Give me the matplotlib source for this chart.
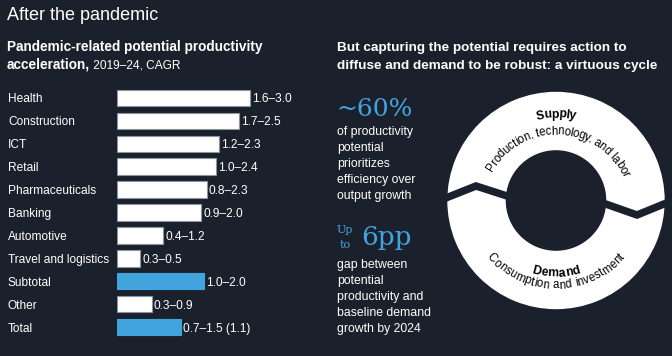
import matplotlib
matplotlib.use('Agg')
import matplotlib.pyplot as plt
import numpy as np
from matplotlib.patches import Wedge
from matplotlib.font_manager import FontProperties
from matplotlib.transforms import blended_transform_factory

plt.rcParams['font.family'] = ['Liberation Sans', 'DejaVu Sans']

BG = '#1b212c'
BLUE = '#41a4dd'

# data: bar length is the midpoint of each range
sectors = ['Health', 'Construction', 'ICT', 'Retail', 'Pharmaceuticals', 'Banking',
           'Automotive', 'Travel and logistics', 'Subtotal', 'Other', 'Total']
midpoints = [2.3, 2.1, 1.75, 1.7, 1.55, 1.45, 0.8, 0.4, 1.5, 0.6, 1.1]
ranges = ['1.6–3.0', '1.7–2.5', '1.2–2.3', '1.0–2.4', '0.8–2.3', '0.9–2.0',
          '0.4–1.2', '0.3–0.5', '1.0–2.0', '0.3–0.9', '0.7–1.5 (1.1)']
highlight = ['Subtotal', 'Total']

W, H = 672, 356
fig = plt.figure(figsize=(W / 100, H / 100), dpi=100, facecolor=BG)

# pixel canvas for the text blocks and the cycle diagram
cv = fig.add_axes([0, 0, 1, 1])
cv.set_xlim(0, W)
cv.set_ylim(H, 0)
cv.axis('off')

ax = fig.add_axes([117 / W, 1 - 338.5 / H, 174 / W, 252 / H])
ax.set_xlim(0, 3.0)
ax.set_ylim(len(sectors) - 0.5, -0.5)
ax.axis('off')

y = np.arange(len(sectors))
colors = [BLUE if s in highlight else 'white' for s in sectors]
edges = [BLUE if s in highlight else '#8d949c' for s in sectors]
ax.barh(y, midpoints, height=0.72, color=colors, edgecolor=edges, linewidth=0.8)

lab_tr = blended_transform_factory(cv.transData, ax.transData)
for i, (s, m, r) in enumerate(zip(sectors, midpoints, ranges)):
    ax.text(8, i, s, transform=lab_tr, color='white', fontsize=8.6,
            va='center_baseline', ha='left')
    ax.annotate(r, (m, i), xytext=(1.5, 0), textcoords='offset points',
                color='white', fontsize=8.6, va='center_baseline', ha='left')

# titles
cv.text(7, 20, 'After the pandemic', color='white', fontsize=13, va='baseline')
cv.text(7, 51.5, 'Pandemic-related potential productivity', color='white',
        fontsize=9.8, fontweight='bold', va='baseline')
t = cv.text(7, 68.5, 'acceleration,', color='white', fontsize=9.8,
            fontweight='bold', va='baseline')
cv.annotate(' 2019–24, CAGR', xy=(1, 0), xycoords=t, color='white', fontsize=8.6,
            va='bottom', ha='left')

cv.text(337, 51, 'But capturing the potential requires action to', color='white',
        fontsize=9.7, fontweight='bold', va='baseline')
cv.text(337, 69, 'diffuse and demand to be robust: a virtuous cycle', color='white',
        fontsize=9.7, fontweight='bold', va='baseline')

# call-outs
cv.text(336, 116, '~60%', color=BLUE, fontsize=18, family='DejaVu Serif',
        va='baseline')
for k, line in enumerate(['of productivity', 'potential', 'prioritizes',
                          'efficiency over', 'output growth']):
    cv.text(337, 134.5 + 16 * k, line, color='white', fontsize=8.8, va='baseline')

cv.text(337, 233, 'Up', color=BLUE, fontsize=8, family='DejaVu Serif',
        va='baseline')
cv.text(340, 247.5, 'to', color=BLUE, fontsize=8, family='DejaVu Serif',
        va='baseline')
cv.text(361, 245, '6pp', color=BLUE, fontsize=19, family='DejaVu Serif',
        va='baseline')
for k, line in enumerate(['gap between', 'potential', 'productivity and',
                          'baseline demand', 'growth by 2024']):
    cv.text(337, 268 + 16 * k, line, color='white', fontsize=8.8, va='baseline')

# virtuous cycle ring
cx, cy, R, r_in = 556, 200.5, 108, 51
cv.add_patch(Wedge((cx, cy), R, 0, 360, width=R - r_in, color='white'))
cv.plot([440, 476, 512], [200.3, 186, 197.6], color=BG, lw=5.4,
        solid_joinstyle='miter', solid_capstyle='butt')
cv.plot([600, 637, 672], [202, 215, 200.7], color=BG, lw=5.4,
        solid_joinstyle='miter', solid_capstyle='butt')

renderer = fig.canvas.get_renderer()


def arc_text(s, ccx, ccy, radius, center_deg, size, weight='normal', top=True):
    fp = FontProperties(family='Liberation Sans', size=size, weight=weight)

    def ink(txt):
        return renderer.get_text_width_height_descent(txt, fp, ismath=False)[0]

    base = ink('||')

    def adv(txt):
        # advance width of txt, spaces included
        return ink('|' + txt + '|') - base

    total = adv(s)
    for i, ch in enumerate(s):
        if ch == ' ':
            continue
        mid = (adv(s[:i]) + adv(s[:i + 1])) / 2 - total / 2
        ang = center_deg + np.degrees(mid / radius)
        a = np.radians(ang)
        if top:
            x, yy, rot = ccx + radius * np.sin(a), ccy - radius * np.cos(a), -ang
        else:
            x, yy, rot = ccx + radius * np.sin(a), ccy + radius * np.cos(a), ang
        cv.text(x, yy, ch, fontproperties=fp, color='black', rotation=rot,
                rotation_mode='anchor', ha='center', va='center_baseline')


arc_text('Supply', 556, 208, 95, 0, 8.8, 'bold', top=True)
arc_text('Production, technology, and labor', 556, 208, 78, 2.5, 8.3, top=True)
arc_text('Demand', 556, 196, 76, 0, 8.8, 'bold', top=False)
arc_text('Consumption and investment', 556, 196, 88, 0, 8.3, top=False)

fig.savefig('out.png', dpi=100, facecolor=fig.get_facecolor())
